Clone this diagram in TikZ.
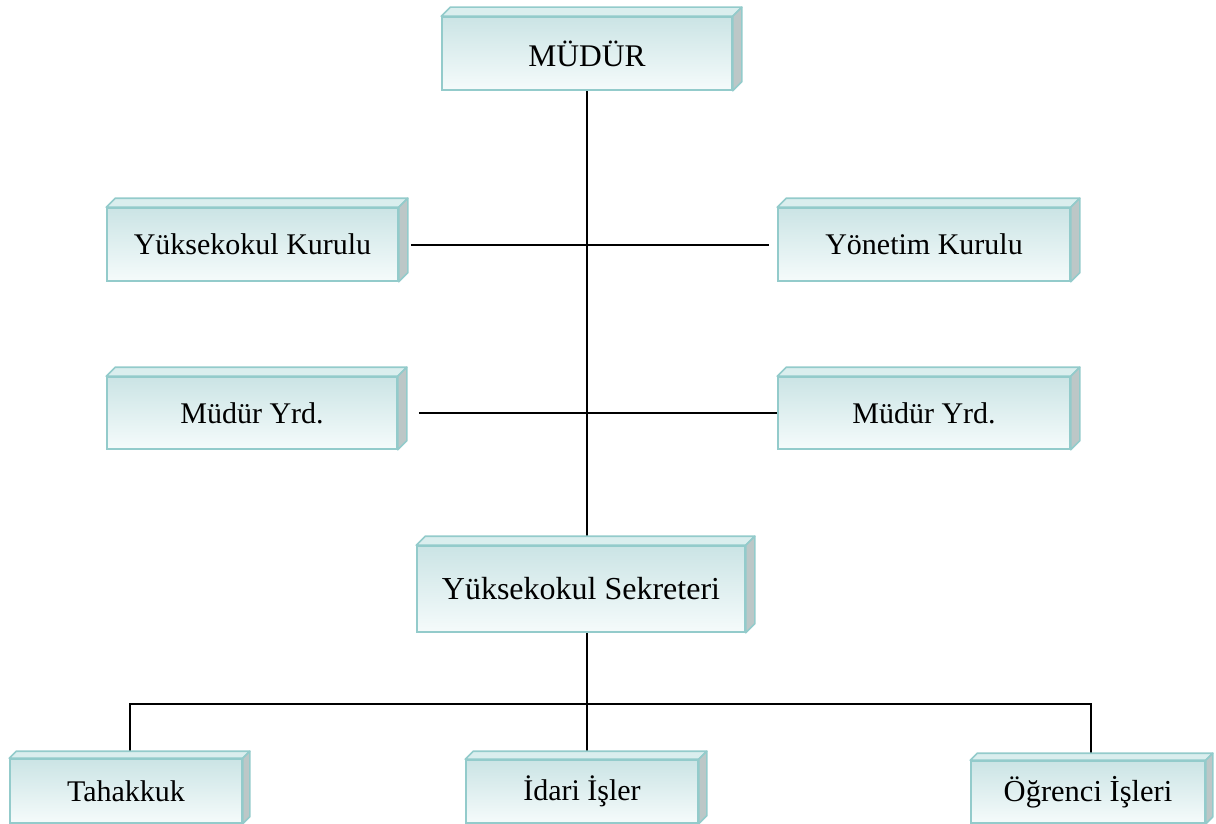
\documentclass[tikz,border=0pt]{standalone}
\usepackage{fontspec}
\setmainfont{Liberation Serif}
\pgfdeclarelayer{bg}
\pgfsetlayers{bg,main}
\definecolor{bord}{HTML}{93CBCB}
\definecolor{topc}{HTML}{CBE4E5}
\definecolor{botc}{HTML}{F5FBFB}
\definecolor{topface}{HTML}{DAEEEE}
\definecolor{sidec}{HTML}{BCC7C7}
\tikzset{
  cube/.style={draw=bord, line width=1.6pt, top color=topc, bottom color=botc, inner sep=0pt, font=\fontsize{30}{35}\selectfont},
  conn/.style={draw=black, line width=2pt},
}
\newcommand{\cubefaces}[2]{%
  \fill[topface, draw=bord, line width=1.6pt, line join=round] (#1.north west) -- ([shift={(#2,-#2)}]#1.north west) -- ([shift={(#2,-#2)}]#1.north east) -- (#1.north east) -- cycle;
  \fill[sidec, draw=bord, line width=1.6pt, line join=round] (#1.north east) -- ([shift={(#2,-#2)}]#1.north east) -- ([shift={(#2,-#2)}]#1.south east) -- (#1.south east) -- cycle;
}
\begin{document}
\begin{tikzpicture}[x=1pt,y=-1pt]
\useasboundingbox (0,0) rectangle (1216,824);
\node[cube, minimum width=290pt, minimum height=73pt, font=\fontsize{31.5}{36}\selectfont] (mudur) at (587,53.5) {MÜDÜR};
\node[cube, minimum width=291pt, minimum height=73pt] (yk) at (252.5,244.5) {Yüksekokul Kurulu};
\node[cube, minimum width=292pt, minimum height=73pt] (yon) at (924,244.5) {Yönetim Kurulu};
\node[cube, minimum width=290pt, minimum height=72pt] (my1) at (252,413) {Müdür Yrd.};
\node[cube, minimum width=292pt, minimum height=72pt] (my2) at (924,413) {Müdür Yrd.};
\node[cube, minimum width=328pt, minimum height=86pt, font=\fontsize{32}{37}\selectfont] (sek) at (581,589) {Yüksekokul Sekreteri};
\node[cube, minimum width=232pt, minimum height=64pt] (tah) at (126,791) {Tahakkuk};
\node[cube, minimum width=232pt, minimum height=63pt] (ida) at (582,791.5) {İdari İşler};
\node[cube, minimum width=234pt, minimum height=62pt, font=\fontsize{30.5}{35}\selectfont] (ogr) at (1088,792) {Öğrenci İşleri};
\cubefaces{mudur}{9}
\cubefaces{yk}{9}
\cubefaces{yon}{9}
\cubefaces{my1}{9}
\cubefaces{my2}{9}
\cubefaces{sek}{9}
\cubefaces{tah}{7}
\cubefaces{ida}{8}
\cubefaces{ogr}{7}
\coordinate (bl) at (130,704);
\coordinate (br) at (1091,704);
\begin{pgfonlayer}{bg}
\draw[conn] (mudur.south) -- (mudur.south |- sek.north);
\draw[conn] ([xshift=12pt]yk.east) -- ([xshift=-8pt]yon.west);
\draw[conn] ([xshift=21pt]my1.east) -- (my2.west);
\draw[conn] (mudur.south |- sek.south) -- (mudur.south |- bl);
\draw[conn] (bl |- tah.north) -- (bl) -- (br) -- (br |- ogr.north);
\draw[conn] (mudur.south |- bl) -- (mudur.south |- ida.north);
\end{pgfonlayer}
\end{tikzpicture}
\end{document}
